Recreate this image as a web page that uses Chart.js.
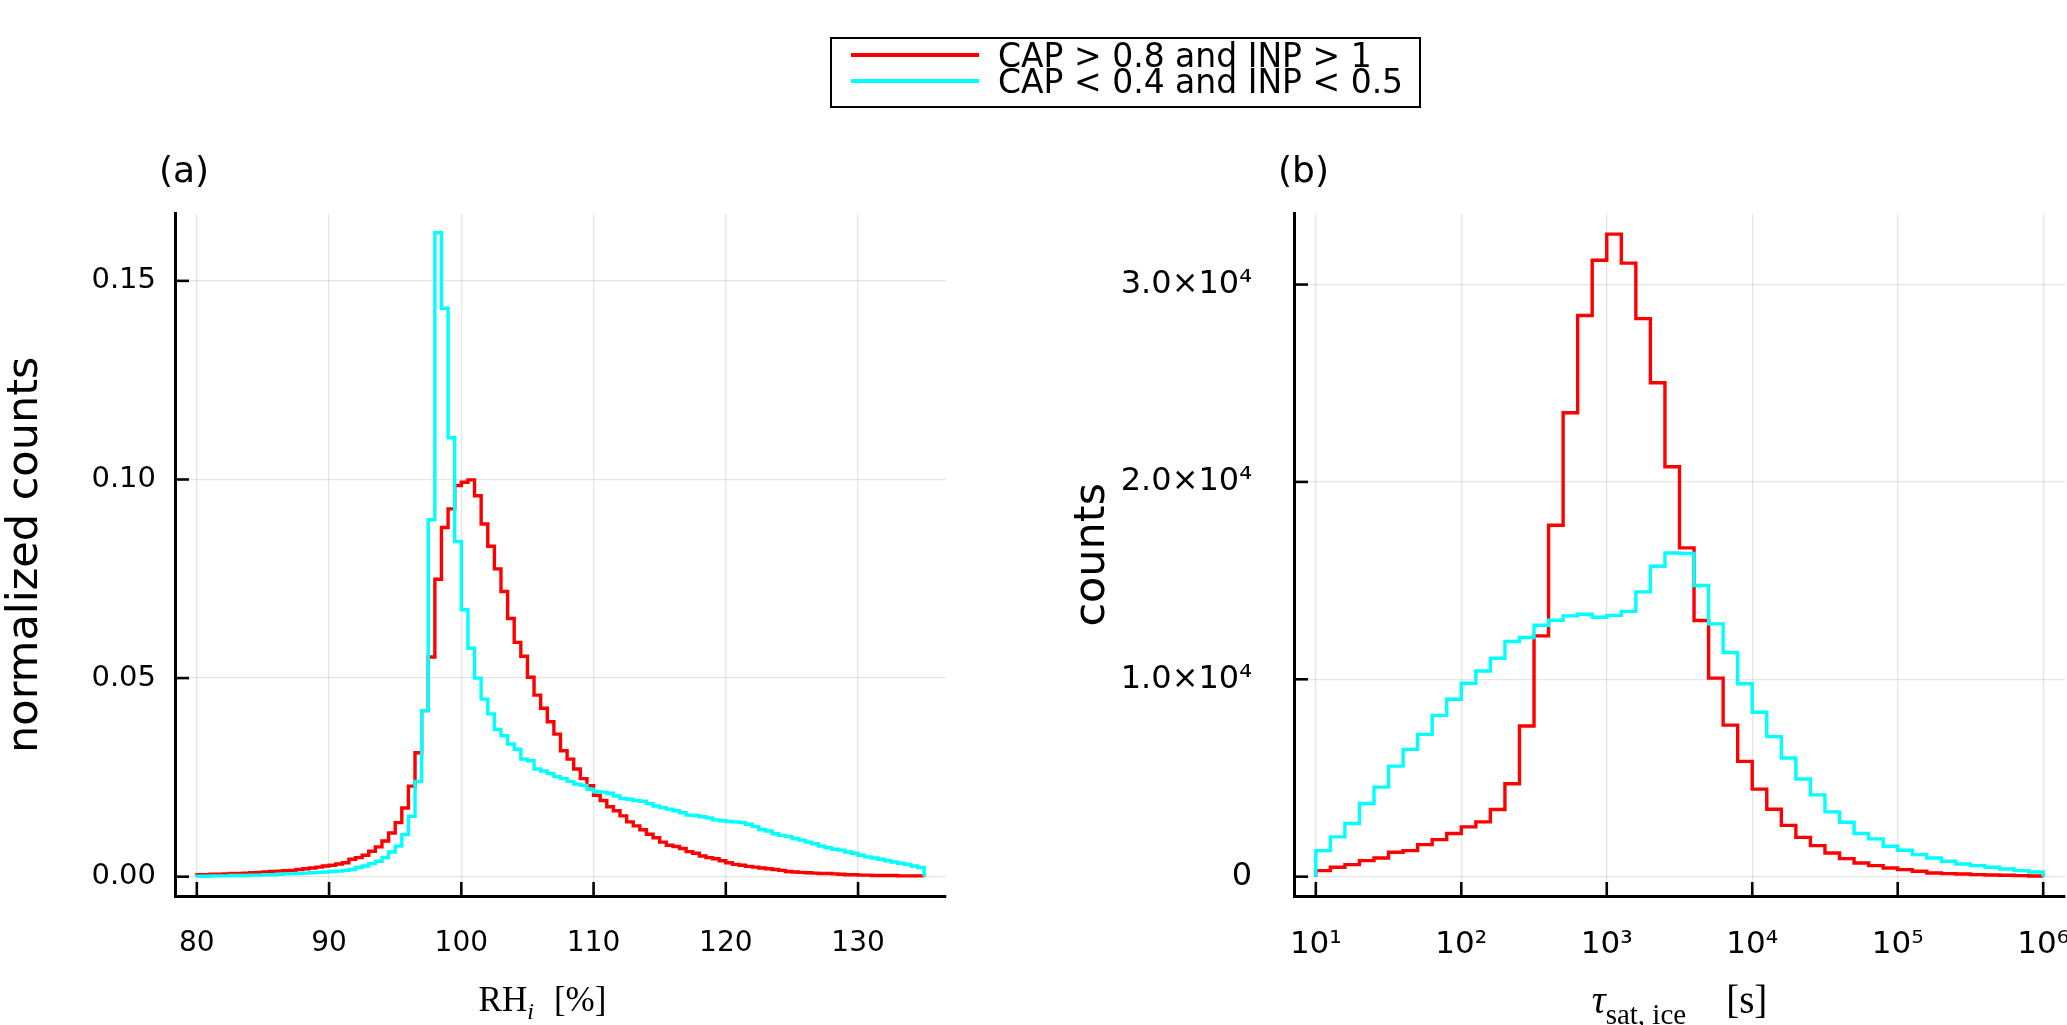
<!DOCTYPE html>
<html>
<head>
<meta charset="utf-8">
<script src="https://cdn.jsdelivr.net/npm/chart.js@4.4.1/dist/chart.umd.min.js"></script>
<style>
html,body{margin:0;padding:0;background:#fff;}
#wrap{position:relative;width:2067px;height:1025px;overflow:hidden;background:#fff;font-family:"DejaVu Sans";}
#ca{position:absolute;left:0;top:0;width:1000px;height:1025px;}
#cb{position:absolute;left:1051px;top:0;width:1016px;height:1025px;}
#legend{position:absolute;left:830px;top:37px;width:591px;height:71px;box-sizing:border-box;border:2px solid #000;background:#fff;}
.lrow{position:absolute;left:0;height:0;}
.sw{position:absolute;left:19px;width:128px;height:4px;top:-2px;}
.lt{position:absolute;left:166px;top:0;transform:translateY(-50%);font-family:"DejaVu Sans";font-size:33px;white-space:nowrap;color:#000;line-height:1;}
.xt{position:absolute;top:999px;transform:translate(-50%,-50%);font-family:"Liberation Serif";white-space:nowrap;line-height:1;color:#000;}
#xtA{font-size:35px;}
#xtA sub{font-size:24px;vertical-align:-0.35em;line-height:0;}
#xtB{font-size:39px;}
#xtB sub{font-size:29px;vertical-align:-0.4em;line-height:0;}
</style>
</head>
<body>
<div id="wrap">
  <canvas id="ca" width="1000" height="1025"></canvas>
  <canvas id="cb" width="1016" height="1025"></canvas>
  <div id="legend"></div>
  <div id="xtA" class="xt">RH<sub><i>i</i></sub><span style="display:inline-block;width:20px"></span>[%]</div>
  <div id="xtB" class="xt"><i>τ</i><sub>sat, ice</sub><span style="display:inline-block;width:40px"></span>[s]</div>
</div>
<script>
// ---------- data ----------
const seriesNames = ['CAP > 0.8 and INP > 1', 'CAP < 0.4 and INP < 0.5'];
const seriesColors = ['#ff0000', '#00ffff'];
const panelLabels = ['(a)', '(b)'];

// panel (a): RH_i histogram bin edges [%]
const rhEdges = [80,80.5,81,81.5,82,82.5,83,83.5,84,84.5,85,85.5,86,86.5,87,87.5,88,88.5,89,89.5,
  90,90.5,91,91.5,92,92.5,93,93.5,94,94.5,95,95.5,96,96.5,97,97.5,98,98.5,99,99.5,
  100,100.5,101,101.5,102,102.5,103,103.5,104,104.5,105,105.5,106,106.5,107,107.5,108,108.5,109,109.5,
  110,110.5,111,111.5,112,112.5,113,113.5,114,114.5,115,115.5,116,116.5,117,117.5,118,118.5,119,119.5,
  120,120.5,121,121.5,122,122.5,123,123.5,124,124.5,125,125.5,126,126.5,127,127.5,128,128.5,129,129.5,
  130,130.5,131,131.5,132,132.5,133,133.5,134,134.5,135];
const rhRed = [0.0005,0.0005,0.0006,0.0006,0.0007,0.0008,0.0008,0.0009,0.0010,0.0011,
  0.0012,0.0013,0.0014,0.0015,0.0016,0.0018,0.0020,0.0022,0.0024,0.0027,
  0.0029,0.0032,0.0035,0.0044,0.0048,0.0054,0.0064,0.0075,0.0090,0.0110,
  0.0136,0.0173,0.0228,0.0312,0.0418,0.0553,0.0749,0.0879,0.0926,0.0985,
  0.0993,0.0999,0.0959,0.0888,0.0832,0.0775,0.0718,0.0650,0.0590,0.0555,
  0.0502,0.0457,0.0424,0.0390,0.0359,0.0317,0.0296,0.0271,0.0247,0.0229,
  0.0205,0.0192,0.0176,0.0166,0.0153,0.0138,0.0128,0.0118,0.0107,0.0098,
  0.0087,0.0079,0.0076,0.0071,0.0063,0.0059,0.0052,0.0048,0.0045,0.0040,
  0.0035,0.0031,0.0029,0.0026,0.0024,0.0022,0.0020,0.0018,0.0016,0.0013,
  0.0012,0.0011,0.0010,0.0009,0.0008,0.0008,0.0007,0.0006,0.0005,0.0005,
  0.0004,0.0004,0.0003,0.0003,0.0003,0.0003,0.0002,0.0002,0.0002,0.0002];
const rhCyan = [0.0001,0.0001,0.0002,0.0002,0.0002,0.0003,0.0003,0.0003,0.0004,0.0004,
  0.0005,0.0005,0.0006,0.0007,0.0007,0.0008,0.0009,0.0010,0.0011,0.0012,
  0.0013,0.0014,0.0016,0.0018,0.0023,0.0027,0.0033,0.0039,0.0048,0.0062,
  0.0077,0.0106,0.0152,0.0240,0.0418,0.0899,0.1621,0.1431,0.1105,0.0844,
  0.0672,0.0575,0.0500,0.0447,0.0410,0.0371,0.0355,0.0334,0.0321,0.0296,
  0.0292,0.0271,0.0266,0.0260,0.0252,0.0247,0.0240,0.0233,0.0230,0.0220,
  0.0214,0.0213,0.0210,0.0203,0.0197,0.0195,0.0192,0.0190,0.0184,0.0178,
  0.0174,0.0170,0.0166,0.0161,0.0155,0.0154,0.0151,0.0148,0.0143,0.0141,
  0.0139,0.0138,0.0136,0.0132,0.0126,0.0119,0.0115,0.0108,0.0104,0.0101,
  0.0096,0.0092,0.0087,0.0083,0.0077,0.0073,0.0069,0.0067,0.0062,0.0059,
  0.0054,0.0050,0.0047,0.0044,0.0040,0.0037,0.0034,0.0031,0.0027,0.0023];
const rhXTicks = [80, 90, 100, 110, 120, 130];
const rhXLabels = ['80', '90', '100', '110', '120', '130'];
const rhYTicks = [0, 0.05, 0.10, 0.15];
const rhYLabels = ['0.00', '0.05', '0.10', '0.15'];

// panel (b): tau_sat,ice histogram bin edges (log10 of seconds)
const tauExp = [1.0,1.1,1.2,1.3,1.4,1.5,1.6,1.7,1.8,1.9,2.0,2.1,2.2,2.3,2.4,2.5,2.6,2.7,2.8,2.9,
  3.0,3.1,3.2,3.3,3.4,3.5,3.6,3.7,3.8,3.9,4.0,4.1,4.2,4.3,4.4,4.5,4.6,4.7,4.8,4.9,
  5.0,5.1,5.2,5.3,5.4,5.5,5.6,5.7,5.8,5.9,6.0];
const tauRed = [305,474,609,812,948,1235,1320,1624,1878,2183,
  2521,2775,3401,4704,7631,12200,17808,23508,28432,31231,
  32555,31084,28272,25027,20766,16656,12979,10058,7679,5840,
  4434,3418,2596,1990,1574,1201,914,694,558,440,
  355,271,186,152,135,102,85,68,51,34];
const tauCyan = [1320,2014,2690,3706,4535,5601,6447,7208,8173,8985,
  9797,10423,11066,11912,12115,12741,12995,13215,13299,13140,
  13240,13440,14428,15726,16396,16375,14752,12806,11356,9777,
  8328,7095,6013,4950,4146,3283,2758,2183,1912,1540,
  1337,1117,948,778,643,558,474,389,305,237];
const tauXTicks = [1e1, 1e2, 1e3, 1e4, 1e5, 1e6];
const tauXLabels = ['10¹', '10²', '10³', '10⁴', '10⁵', '10⁶'];
const tauYTicks = [0, 1e4, 2e4, 3e4];
const tauYLabels = ['0', '1.0×10⁴', '2.0×10⁴', '3.0×10⁴'];

// ---------- helpers ----------
// histogram outline: horizontal at each bin value, vertical at each edge
function stepPoints(edges, vals) {
  const n = vals.length;
  const pts = [{x: edges[0], y: 0}, {x: edges[0], y: vals[0]}];
  for (let i = 1; i <= n; i++) pts.push({x: edges[i], y: i < n ? vals[i] : 0});
  return pts;
}
function ds(label, color, pts, order) {
  return {label, data: pts, borderColor: color, backgroundColor: color, borderWidth: 3.4,
    pointRadius: 0, stepped: 'before', fill: false, tension: 0, order};
}

Chart.defaults.font.family = 'DejaVu Sans';
Chart.defaults.color = '#000';

const innerTicks = {
  id: 'innerTicks',
  afterDraw(chart) {
    const {ctx, chartArea: a, scales} = chart;
    ctx.save();
    ctx.strokeStyle = '#000';
    ctx.lineWidth = 2.6;
    scales.x.ticks.forEach(t => {
      const px = scales.x.getPixelForValue(t.value);
      ctx.beginPath(); ctx.moveTo(px, a.bottom); ctx.lineTo(px, a.bottom - 14); ctx.stroke();
    });
    scales.y.ticks.forEach(t => {
      const py = scales.y.getPixelForValue(t.value);
      ctx.beginPath(); ctx.moveTo(a.left, py); ctx.lineTo(a.left + 14, py); ctx.stroke();
    });
    ctx.restore();
  }
};

// panel letter, placed just left of the plot area's top-left corner
const panelLabel = {
  id: 'panelLabel',
  afterDraw(chart, args, opts) {
    const {ctx, chartArea: a} = chart;
    ctx.save();
    ctx.font = '36px "DejaVu Sans"';
    ctx.fillStyle = '#000';
    ctx.textAlign = 'left';
    ctx.textBaseline = 'middle';
    ctx.fillText(opts.text, a.left - 16, a.top - 41);
    ctx.restore();
  }
};

const gridCfg = {color: 'rgba(0,0,0,0.1)', lineWidth: 1.3, drawTicks: false};
const borderCfg = {display: true, color: '#000', width: 3};

function makeOptions(cfg) {
  return {
    responsive: false,
    animation: false,
    devicePixelRatio: 1,
    layout: {padding: cfg.padding},
    plugins: {
      legend: {display: false},
      tooltip: {enabled: false},
      title: {display: false},
      panelLabel: {text: cfg.label}
    },
    scales: {
      x: {
        type: cfg.xType, min: cfg.xMin, max: cfg.xMax,
        afterBuildTicks: s => { s.ticks = cfg.xTicks.map(v => ({value: v})); },
        ticks: {callback: (v, i) => cfg.xLabels[i], font: {size: cfg.xFont}, color: '#000',
          padding: cfg.xPad, maxRotation: 0, minRotation: 0, autoSkip: false},
        grid: gridCfg, border: borderCfg,
        afterFit: s => { s.height = 129; s.paddingLeft = 0; s.paddingRight = 0; }
      },
      y: {
        type: 'linear', min: cfg.yMin, max: cfg.yMax,
        afterBuildTicks: s => { s.ticks = cfg.yTicks.map(v => ({value: v})); },
        ticks: {callback: (v, i) => cfg.yLabels[i], font: {size: cfg.yFont}, color: '#000',
          padding: cfg.yPad, autoSkip: false},
        grid: gridCfg, border: borderCfg,
        title: {display: true, text: cfg.yTitle, font: {size: 43}, color: '#000',
          padding: {top: cfg.yTitlePad, bottom: 0}},
        afterFit: s => { s.width = cfg.yWidth; s.paddingTop = 0; s.paddingBottom = 0; }
      }
    }
  };
}

const chartA = new Chart(document.getElementById('ca'), {
  type: 'line',
  data: {datasets: [
    ds(seriesNames[0], seriesColors[0], stepPoints(rhEdges, rhRed), 1),
    ds(seriesNames[1], seriesColors[1], stepPoints(rhEdges, rhCyan), 0)
  ]},
  options: makeOptions({
    padding: {left: 0, right: 54, top: 213.5, bottom: 0}, label: panelLabels[0],
    xType: 'linear', xMin: 78.35, xMax: 136.65, xTicks: rhXTicks, xLabels: rhXLabels, xFont: 28, xPad: 31,
    yMin: -0.00486, yMax: 0.16696, yTicks: rhYTicks, yLabels: rhYLabels, yFont: 29, yPad: 19, yWidth: 175,
    yTitle: 'normalized counts', yTitlePad: 0
  }),
  plugins: [innerTicks, panelLabel]
});

const tauEdges = tauExp.map(e => Math.pow(10, e));
const chartB = new Chart(document.getElementById('cb'), {
  type: 'line',
  data: {datasets: [
    ds(seriesNames[0], seriesColors[0], stepPoints(tauEdges, tauRed), 1),
    ds(seriesNames[1], seriesColors[1], stepPoints(tauEdges, tauCyan), 0)
  ]},
  options: makeOptions({
    padding: {left: 0, right: 2, top: 213.5, bottom: 0}, label: panelLabels[1],
    xType: 'logarithmic', xMin: Math.pow(10, 0.85), xMax: Math.pow(10, 6.15), xTicks: tauXTicks, xLabels: tauXLabels, xFont: 31, xPad: 30,
    yMin: -980, yMax: 33600, yTicks: tauYTicks, yLabels: tauYLabels, yFont: 32, yPad: 42, yWidth: 243,
    yTitle: 'counts', yTitlePad: 16
  }),
  plugins: [innerTicks, panelLabel]
});

// legend (HTML)
const leg = document.getElementById('legend');
const rowTops = [16, 42];
seriesNames.forEach((name, i) => {
  const row = document.createElement('div');
  row.className = 'lrow';
  row.style.top = rowTops[i] + 'px';
  const sw = document.createElement('span');
  sw.className = 'sw'; sw.style.background = seriesColors[i];
  const tx = document.createElement('span');
  tx.className = 'lt'; tx.textContent = name;
  row.appendChild(sw); row.appendChild(tx);
  leg.appendChild(row);
});

// x axis titles under each plot area
const aA = chartA.chartArea, aB = chartB.chartArea;
document.getElementById('xtA').style.left = ((aA.left + aA.right) / 2 - 18) + 'px';
document.getElementById('xtB').style.left = (1051 + (aB.left + aB.right) / 2) + 'px';
</script>
</body>
</html>
